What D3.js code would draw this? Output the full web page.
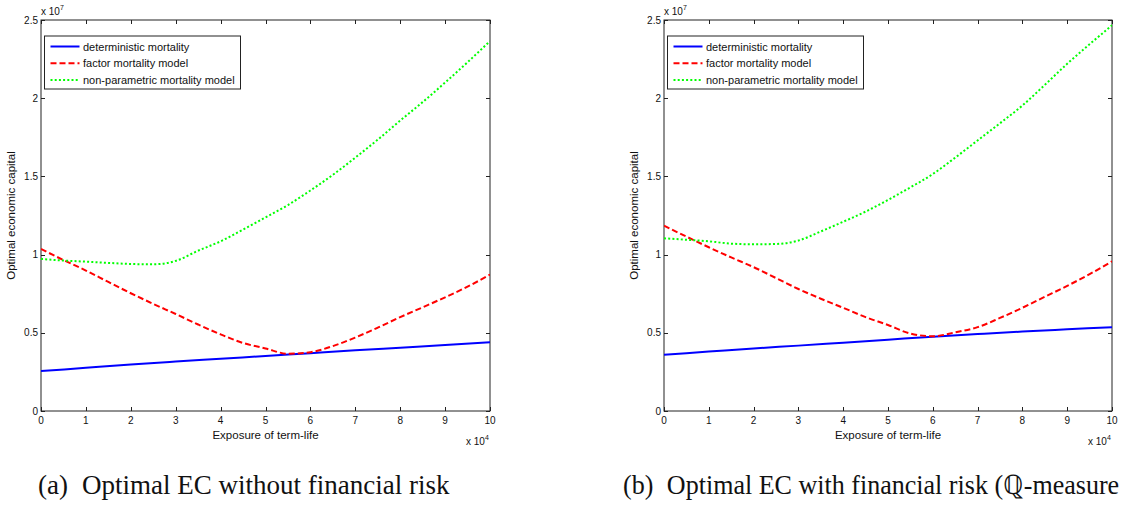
<!DOCTYPE html>
<html>
<head>
<meta charset="utf-8">
<script src="https://cdn.jsdelivr.net/npm/d3@7"></script>
<style>
  html, body { margin: 0; padding: 0; background: #fff; }
  svg { display: block; }
  text { font-family: "Liberation Sans", Arial, Helvetica, sans-serif; fill: #111; }
  .cap { font-family: "Liberation Serif", "Times New Roman", Times, serif; }
</style>
</head>
<body>
<svg id="chart" width="1122" height="512"></svg>
<script>
// ---------- data (values in units of 1e7, exposure in units of 1e4) ----------
const xStep1 = [0,1,2,3,4,5,6,7,8,9,10];
const xStepHalf = [0,0.5,1,1.5,2,2.5,3,3.5,4,4.5,5,5.5,6,6.5,7,7.5,8,8.5,9,9.5,10];

const detA   = [0.255,0.276,0.297,0.316,0.334,0.352,0.370,0.388,0.405,0.422,0.440];
const factorA = [1.036,0.965,0.898,0.825,0.753,0.685,0.620,0.553,0.490,0.435,0.400,0.366,0.376,0.415,0.470,0.533,0.600,0.663,0.727,0.795,0.872];
const nonparA = [0.972,0.962,0.955,0.947,0.940,0.938,0.960,1.025,1.085,1.160,1.238,1.317,1.410,1.510,1.620,1.735,1.857,1.975,2.100,2.230,2.365];

const detB   = [0.360,0.380,0.400,0.418,0.437,0.456,0.475,0.492,0.508,0.522,0.536];
const factorB = [1.185,1.115,1.047,0.982,0.920,0.850,0.780,0.718,0.660,0.600,0.550,0.495,0.478,0.503,0.536,0.595,0.660,0.730,0.800,0.875,0.957];
const nonparB = [1.104,1.095,1.085,1.070,1.066,1.068,1.090,1.148,1.210,1.275,1.350,1.430,1.515,1.620,1.730,1.840,1.953,2.085,2.220,2.345,2.466];

const xTicks = [0,1,2,3,4,5,6,7,8,9,10];
const yTicks = [0,0.5,1,1.5,2,2.5];
const yTickLabels = ["0","0.5","1","1.5","2","2.5"];
const seriesNames = ["deterministic mortality","factor mortality model","non-parametric mortality model"];
const seriesColors = ["#0000ff","#ff0000","#00ff00"];
const seriesDash = [null,"6,3","2,2.2"];
const xLabel = "Exposure of term-life";
const yLabel = "Optimal economic capital";
const captions = [
  ["(a)", "Optimal EC without financial risk"],
  ["(b)", "Optimal EC with financial risk (\u211A-measure"]
];

const svg = d3.select("#chart");

function panel(left, right, seriesY, cap, capX, capMaxRight) {
  const top = 20, bottom = 411;
  const x = d3.scaleLinear().domain([0,10]).range([left, right]);
  const y = d3.scaleLinear().domain([0,2.5]).range([bottom, top]);
  const g = svg.append("g");

  // frame
  g.append("rect").attr("x", left).attr("y", top)
    .attr("width", right-left).attr("height", bottom-top)
    .attr("fill", "none").attr("stroke", "#222").attr("stroke-width", 1);

  // ticks (inward, all four sides)
  const tl = 4;
  xTicks.forEach(t => {
    const px = Math.round(x(t)) + 0.5;
    g.append("line").attr("x1", px).attr("x2", px).attr("y1", bottom).attr("y2", bottom - tl).attr("stroke", "#222");
    g.append("line").attr("x1", px).attr("x2", px).attr("y1", top).attr("y2", top + tl).attr("stroke", "#222");
    g.append("text").attr("x", x(t)).attr("y", bottom + 13).attr("text-anchor", "middle")
      .attr("font-size", 10).text(t);
  });
  yTicks.forEach((t, i) => {
    const py = Math.round(y(t)) + 0.5;
    g.append("line").attr("x1", left).attr("x2", left + tl).attr("y1", py).attr("y2", py).attr("stroke", "#222");
    g.append("line").attr("x1", right).attr("x2", right - tl).attr("y1", py).attr("y2", py).attr("stroke", "#222");
    g.append("text").attr("x", left - 3).attr("y", y(t) + 3.5).attr("text-anchor", "end")
      .attr("font-size", 10).text(yTickLabels[i]);
  });

  // exponent labels
  const e7 = g.append("text").attr("x", left).attr("y", 15).attr("font-size", 10);
  e7.append("tspan").text("x 10");
  e7.append("tspan").attr("dy", -5).attr("font-size", 7).text("7");
  const e4 = g.append("text").attr("x", right - 24).attr("y", 445).attr("font-size", 10);
  e4.append("tspan").text("x 10");
  e4.append("tspan").attr("dy", -5).attr("font-size", 7).text("4");

  // axis labels
  g.append("text").attr("x", (left + right) / 2).attr("y", 439).attr("text-anchor", "middle")
    .attr("font-size", 11.5).text(xLabel);
  g.append("text").attr("transform", `translate(${left - 26},${(top + bottom) / 2}) rotate(-90)`)
    .attr("text-anchor", "middle").attr("font-size", 11.5).text(yLabel);

  // series
  const clip = "clip" + left;
  svg.append("clipPath").attr("id", clip).append("rect")
    .attr("x", left).attr("y", top).attr("width", right - left).attr("height", bottom - top);
  const line = d3.line().x(d => x(d[0])).y(d => y(d[1])).curve(d3.curveMonotoneX);
  seriesY.forEach((s, i) => {
    const pts = s.xs.map((xv, j) => [xv, s.ys[j]]);
    g.append("path").attr("d", line(pts)).attr("fill", "none")
      .attr("stroke", seriesColors[i]).attr("stroke-width", 2)
      .attr("stroke-dasharray", seriesDash[i]).attr("clip-path", `url(#${clip})`);
  });

  // legend
  const lx = left + 3.5, ly = 36, lw = 196, lh = 53;
  g.append("rect").attr("x", lx).attr("y", ly).attr("width", lw).attr("height", lh)
    .attr("fill", "#fff").attr("stroke", "#222").attr("stroke-width", 1);
  seriesNames.forEach((nm, i) => {
    const ry = ly + 10.5 + i * 16.7;
    g.append("line").attr("x1", lx + 6).attr("x2", lx + 35).attr("y1", ry).attr("y2", ry)
      .attr("stroke", seriesColors[i]).attr("stroke-width", 2).attr("stroke-dasharray", seriesDash[i]);
    g.append("text").attr("x", lx + 38.5).attr("y", ry + 4).attr("font-size", 11).text(nm);
  });

  // caption (squeezed horizontally if needed so it fits inside the page)
  const c = g.append("text").attr("class", "cap")
    .attr("transform", `translate(${capX},494)`).attr("font-size", 27);
  c.append("tspan").text(cap[0]);
  c.append("tspan").attr("dx", 14).text(cap[1]);
  const w = c.node().getBBox().width;
  if (capX + w > capMaxRight) {
    const sx = (capMaxRight - capX) / w;
    c.attr("transform", `translate(${capX},494) scale(${sx},1)`);
  }
}

panel(41, 490, [
  {xs: xStep1, ys: detA},
  {xs: xStepHalf, ys: factorA},
  {xs: xStepHalf, ys: nonparA}
], captions[0], 38, 455);

panel(664, 1112, [
  {xs: xStep1, ys: detB},
  {xs: xStepHalf, ys: factorB},
  {xs: xStepHalf, ys: nonparB}
], captions[1], 623, 1119);
</script>
</body>
</html>
